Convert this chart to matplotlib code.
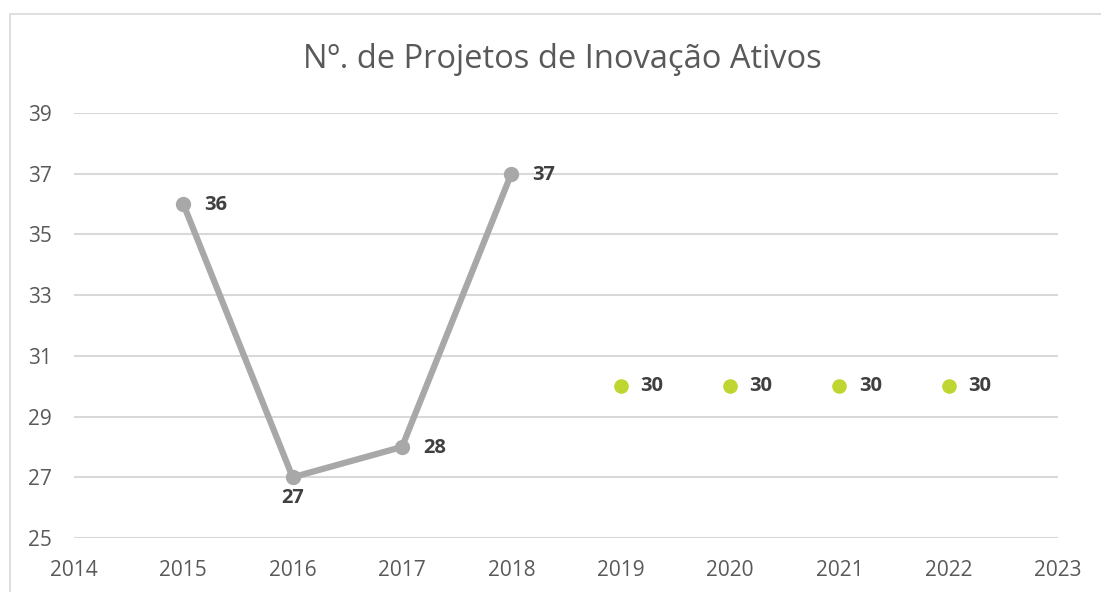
import numpy as np
import matplotlib
matplotlib.use('Agg')
import matplotlib.pyplot as plt
from matplotlib.patches import Rectangle

#=== Data ===#
years_real = [2015, 2016, 2017, 2018]
values_real = [36, 27, 28, 37]
years_goal = [2019, 2020, 2021, 2022]
values_goal = [30, 30, 30, 30]
x_ticks = [2014, 2015, 2016, 2017, 2018, 2019, 2020, 2021, 2022, 2023]
y_ticks = [25, 27, 29, 31, 33, 35, 37, 39]
title = "Nº. de Projetos de Inovação Ativos"

#=== Style ===#
plt.rcParams['font.family'] = ['Open Sans', 'DejaVu Sans']
grey_line = '#A8A8A8'
green = '#BFD630'
label_col = '#404040'
tick_col = '#595959'
grid_col = '#D9D9D9'

W, H = 1101, 592
fig = plt.figure(figsize=(W / 100, H / 100), dpi=100)
ax = fig.add_axes([74 / W, 1 - 538 / H, (1058 - 74) / W, (538 - 113) / H])

# chart frame (cropped at right and bottom)
fig.patches.append(Rectangle((10 / W, -0.1), 1.2, 1 - 14 / H + 0.1,
                             transform=fig.transFigure, fill=False,
                             edgecolor=grid_col, linewidth=1.2))

#=== Plot ===#
ax.plot(years_real, values_real, color=grey_line, linewidth=4.5,
        marker='o', markersize=10, solid_capstyle='round', zorder=3)
ax.plot(years_goal, values_goal, linestyle='none', color=green,
        marker='o', markersize=9.5, zorder=3)

#=== Data labels ===#
lab_kw = dict(fontsize=14.5, fontweight='bold', color=label_col,
              textcoords='offset points', va='center', ha='left')
for i, (x, y) in enumerate(zip(years_real, values_real)):
    if i == 1:
        ax.annotate(str(y), (x, y), xytext=(0, -15), **{**lab_kw, 'ha': 'center'})
    else:
        ax.annotate(str(y), (x, y), xytext=(15, -1), **lab_kw)
for x, y in zip(years_goal, values_goal):
    ax.annotate(str(y), (x, y), xytext=(14, 0), **lab_kw)

#=== Axes ===#
ax.set_xlim(2014, 2023)
ax.set_ylim(25, 39)
ax.set_xticks(x_ticks)
ax.set_yticks(y_ticks)
ax.tick_params(length=0, labelsize=15, colors=tick_col)
ax.tick_params(axis='y', pad=16)
ax.tick_params(axis='x', pad=16)
for s in ax.spines.values():
    s.set_visible(False)
ax.grid(axis='y', color=grid_col, linewidth=1.5)
ax.set_axisbelow(True)

fig.text(562 / W, 1 - 60 / H, title, ha='center', va='center',
         fontsize=23.5, color=tick_col)

fig.savefig('out.png', dpi=100)
